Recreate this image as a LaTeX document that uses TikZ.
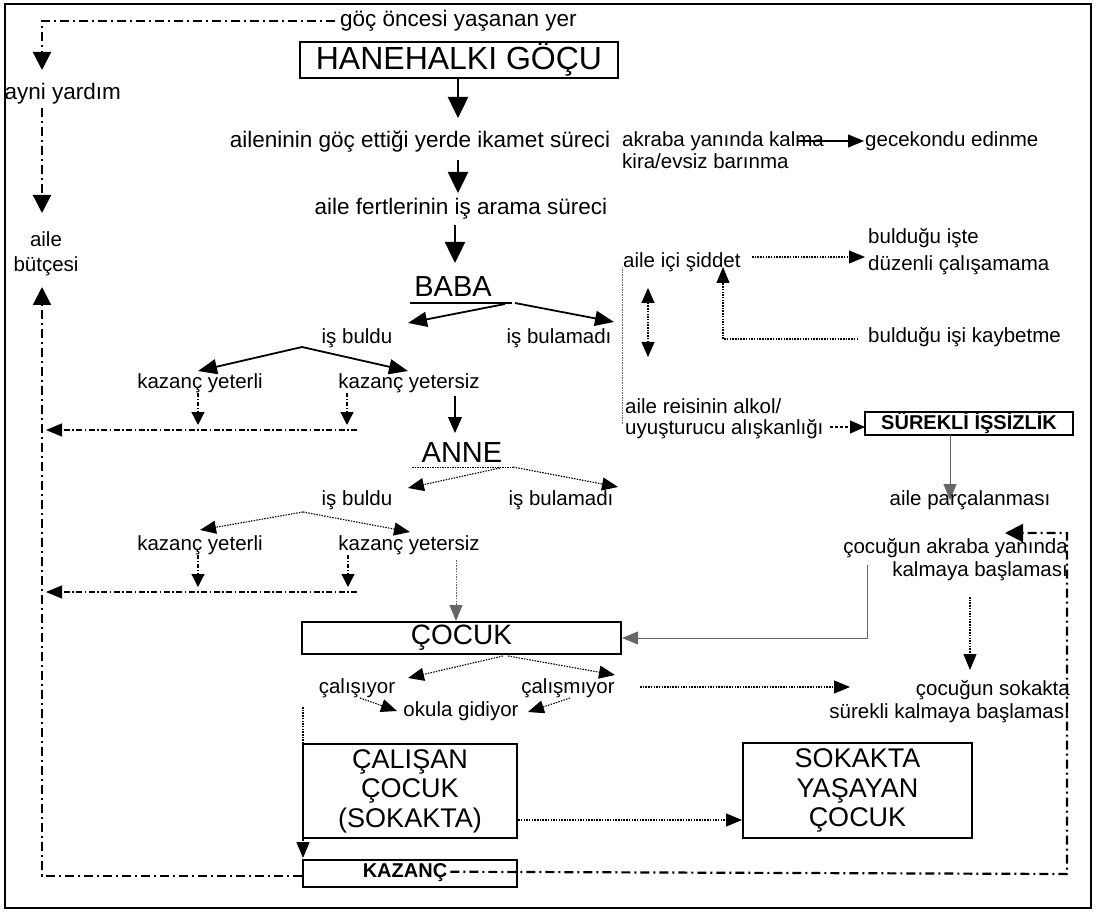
\documentclass[tikz,border=0pt]{standalone}
\usepackage{fontspec}
\setmainfont{Liberation Sans}
\usetikzlibrary{arrows.meta,calc}
\begin{document}
\begin{tikzpicture}[x=1pt,y=-1pt,
  lbl/.style={inner sep=0pt, yshift=-3pt, font=\fontsize{20.5}{25}\selectfont},
  biglbl/.style={inner sep=0pt, yshift=-2pt, font=\fontsize{22.5}{27}\selectfont},
  capslbl/.style={inner sep=0pt, font=\fontsize{29}{30}\selectfont},
  thickbox/.style={draw, line width=2.2pt, inner sep=0pt},
  mainarrow/.style={line width=2.5pt, -{Triangle[length=21pt,width=20pt]}},
  medarrow/.style={line width=1.8pt, -{Triangle[length=19pt,width=15pt]}},
  thinarrow/.style={line width=1.1pt, -{Triangle[length=16pt,width=14pt]}},
  dotarrow/.style={line width=1.1pt, dash pattern=on 1.5pt off 1.2pt, -{Triangle[length=16pt,width=13pt]}},
  greyarrow/.style={line width=1pt, black!60, -{Triangle[length=16pt,width=13pt]}},
  smalldd/.style={line width=1.2pt, dash pattern=on 4pt off 2pt on 1pt off 2pt, -{Triangle[length=13pt,width=13pt]}},
  hdd/.style={line width=1.3pt, dash pattern=on 6pt off 2.5pt on 1.5pt off 2.5pt, -{Triangle[length=16pt,width=13pt]}},
  loopdd/.style={line width=2.2pt, dash pattern=on 9pt off 4pt on 2pt off 4pt},
  looptip/.style={-{Triangle[length=18pt,width=18pt]}}
]
\useasboundingbox (0,0) rectangle (1096,912);
\draw[line width=2pt] (5,4) rectangle (1091,908);

% ---------- main column ----------
\node[biglbl, anchor=mid west] (goc) at (340,22) {göç öncesi yaşanan yer};
\node[thickbox, minimum width=318pt, minimum height=36pt, font=\fontsize{32}{36}\selectfont] (hane) at (459,60) {HANEHALKI GÖÇU};
\node[biglbl, anchor=mid] (ikamet) at (420,143) {aileninin göç ettiği yerde ikamet süreci};
\node[biglbl, anchor=mid] (fert) at (461,210) {aile fertlerinin iş arama süreci};
\draw[mainarrow] (hane.south -| 458,0) -- (458,118);
\draw[mainarrow] (458,160) -- (458,193);
\draw[mainarrow] (455,225) -- (455,263);

\node[capslbl, anchor=base] (baba) at (453,297) {BABA};
\draw[line width=1.6pt] (410,303) -- (512,303);
\draw[medarrow] (505,304) -- (408,323);
\draw[medarrow] (515,303) -- (614,322);
\node[lbl, anchor=mid] (isb1) at (357,338) {iş buldu};
\node[lbl, anchor=mid] (isbm1) at (559,338) {iş bulamadı};
\coordinate (ap1) at (302,347);
\draw[medarrow] (ap1) -- (198,371);
\draw[medarrow] (ap1) -- (408,371);
\node[lbl, anchor=mid] (ky1) at (200,383) {kazanç yeterli};
\node[lbl, anchor=mid] (kys1) at (409,383) {kazanç yetersiz};
\draw[thinarrow] (455,396) -- (455,433);
\draw[smalldd] (198,393) -- (198,425);
\draw[smalldd] (347,393) -- (347,425);
\draw[hdd] (357,430) -- (46,430);

\node[capslbl, anchor=base] (anne) at (462,462) {ANNE};
\draw[line width=1pt, dash pattern=on 1.5pt off 1pt] (412,467) -- (513,467);
\draw[dotarrow] (500,468) -- (408,488);
\draw[dotarrow] (513,467) -- (618,487);
\node[lbl, anchor=mid] (isb2) at (357,500) {iş buldu};
\node[lbl, anchor=mid] (isbm2) at (561,500) {iş bulamadı};
\coordinate (ap2) at (303,512);
\draw[dotarrow] (ap2) -- (200,530);
\draw[dotarrow] (ap2) -- (410,532);
\node[lbl, anchor=mid] (ky2) at (200,545) {kazanç yeterli};
\node[lbl, anchor=mid] (kys2) at (409,545) {kazanç yetersiz};
\draw[smalldd] (198,555) -- (198,587);
\draw[smalldd] (348,555) -- (348,587);
\draw[hdd] (357,592) -- (46,592);
\draw[greyarrow, dash pattern=on 1.5pt off 1.2pt] (456,560) -- (456,621);

\node[thickbox, minimum width=319pt, minimum height=32pt, font=\fontsize{28}{30}\selectfont] (cocuk) at (461.5,638) {ÇOCUK};
\draw[dotarrow] (503,656) -- (408,678);
\draw[dotarrow] (508,656) -- (615,675);
\node[lbl, anchor=mid] (cal) at (357,688) {çalışıyor};
\node[lbl, anchor=mid] (calm) at (568,688) {çalışmıyor};
\node[lbl, anchor=mid] (okul) at (461,711) {okula gidiyor};
\draw[dotarrow] (360,698) -- (397,711);
\draw[dotarrow] (570,698) -- (528,712);
\draw[dotarrow] (640,687) -- (850,687);

\node[thickbox, minimum width=214pt, minimum height=94pt, align=center, font=\fontsize{27}{29.5}\selectfont] (calisan) at (410,791) {ÇALIŞAN\\ÇOCUK\\(SOKAKTA)};
\node[thickbox, minimum width=229pt, minimum height=95pt, align=center, font=\fontsize{27}{29.5}\selectfont] (sokakta) at (857.5,790.5) {SOKAKTA\\YAŞAYAN\\ÇOCUK};
\draw[dotarrow] (calisan.east |- 0,820) -- (742,820);
\node[draw, line width=1.6pt, minimum width=214pt, minimum height=27pt, inner sep=0pt] (kazanc) at (410,873.5) {};
\node[inner sep=0pt, font=\bfseries\fontsize{20}{22}\selectfont, anchor=mid] (kaztext) at (405,875) {KAZANÇ};
\draw[dotarrow] (303,707) -- (303,858);

% ---------- left loop ----------
\node[biglbl, anchor=mid east] (ayni) at (121,95) {ayni yardım};
\node[lbl, align=center, anchor=center] (butce) at (46,251) {aile\\bütçesi};
\draw[loopdd, looptip] (goc.west |- 0,21) ++(-5,0) -- (42,21) -- (42,70);
\draw[loopdd, looptip] (42,108) -- (42,213);
\draw[loopdd, looptip] (kazanc.west |- 0,876) -- (42,876) -- (42,287);

% ---------- right side ----------
\node[lbl, anchor=mid west] (akr) at (622,141) {akraba yanında kalma};
\node[lbl, anchor=mid west] (kira) at (622,163) {kira/evsiz barınma};
\draw[line width=1.3pt, -{Triangle[length=16pt,width=13pt]}] (798,141) -- (864,141);
\node[lbl, anchor=mid west] (gece) at (865,141) {gecekondu edinme};
\node[lbl, anchor=west, align=left, font=\fontsize{20.5}{27}\selectfont] (bis) at (868,249) {bulduğu işte\\düzenli çalışamama};
\node[lbl, anchor=mid west] (siddet) at (623,262) {aile içi şiddet};
\draw[dotarrow] (752,257) -- (865,257);
\node[lbl, anchor=mid west] (kayb) at (868,337) {bulduğu işi kaybetme};
\draw[dotarrow] (858,339) -- (723,339) -- (723,267);
\draw[line width=1.1pt, dash pattern=on 1.5pt off 1.2pt, {Triangle[length=15pt,width=13pt]}-{Triangle[length=15pt,width=13pt]}] (648,288) -- (648,357);
\draw[line width=1pt, black!60, dash pattern=on 1.5pt off 1pt] (622,267) -- (622,424);
\node[lbl, anchor=west, align=left, font=\fontsize{20.5}{21}\selectfont] (reis) at (625,416) {aile reisinin alkol/\\uyuşturucu alışkanlığı};
\draw[line width=1.1pt, dash pattern=on 3pt off 2pt, -{Triangle[length=15pt,width=13pt]}] (830,427) -- (865,427);
\node[draw, line width=1.8pt, minimum width=208pt, minimum height=23pt, inner sep=0pt, font=\bfseries\fontsize{20}{22}\selectfont] (sur) at (969,423.5) {SÜREKLİ İŞSİZLİK};
\draw[greyarrow] (950,435) -- (950,500);
\node[lbl, anchor=mid] (parc) at (970,500) {aile parçalanması};
\node[lbl, anchor=east, align=right, font=\fontsize{20.5}{23}\selectfont] (cak) at (1068,557) {çocuğun akraba yanında\\kalmaya başlaması};
\draw[greyarrow] (867,565) |- (cocuk.east);
\draw[dotarrow] (970,597) -- (970,670);
\node[lbl, anchor=east, align=right, font=\fontsize{20.5}{23}\selectfont] (sok) at (1070,699) {çocuğun sokakta\\sürekli kalmaya başlaması};

% ---------- right loop ----------
\draw[loopdd, looptip] (kaztext.east) ++(3,-1) -- (1067,874) -- (1067,533) -- (1005,533);
\end{tikzpicture}
\end{document}
